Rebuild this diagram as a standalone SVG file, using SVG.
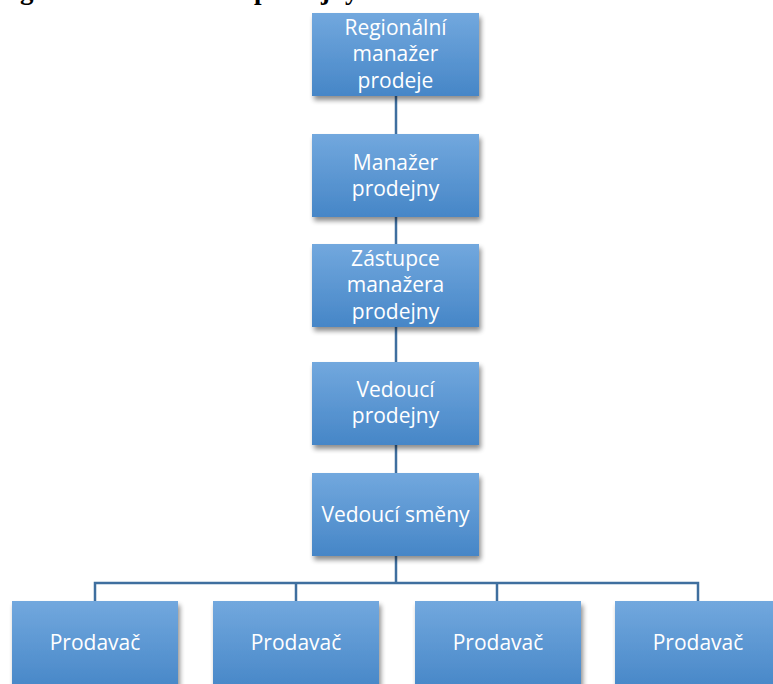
<svg xmlns="http://www.w3.org/2000/svg" width="773" height="684" viewBox="0 0 773 684">
  <defs>
    <linearGradient id="boxFill" x1="0" y1="0" x2="0" y2="1">
      <stop offset="0" stop-color="#72a8de"/>
      <stop offset="1" stop-color="#4686c7"/>
    </linearGradient>
    <filter id="shadow" x="-10%" y="-10%" width="130%" height="140%">
      <feGaussianBlur in="SourceAlpha" stdDeviation="2.5"/>
      <feOffset dx="2" dy="4" result="b"/>
      <feComponentTransfer><feFuncA type="linear" slope="0.45"/></feComponentTransfer>
      <feMerge><feMergeNode/><feMergeNode in="SourceGraphic"/></feMerge>
    </filter>
  </defs>
  <style>
    .box { fill: url(#boxFill); filter: url(#shadow); }
    .lbl { font-family: "Open Sans", "Liberation Sans", sans-serif; font-size: 21px; fill: #ffffff; text-anchor: middle; }
    .conn { stroke: #3f6f9f; stroke-width: 2.5; fill: none; }
    .cap { font-family: "Liberation Serif", serif; font-weight: bold; font-size: 27px; fill: #000000; }
  </style>
  <rect width="773" height="684" fill="#ffffff"/>
  <text class="cap" x="-13" y="-1">Organizační struktura prodejny</text>

  <g id="connectors">
    <line class="conn" x1="396" y1="96" x2="396" y2="134"/>
    <line class="conn" x1="396" y1="217" x2="396" y2="244"/>
    <line class="conn" x1="396" y1="327" x2="396" y2="362"/>
    <line class="conn" x1="396" y1="445" x2="396" y2="473"/>
    <line class="conn" x1="396" y1="556" x2="396" y2="583"/>
    <polyline class="conn" points="95,601 95,583 698,583 698,601"/>
    <line class="conn" x1="296" y1="583" x2="296" y2="601"/>
    <line class="conn" x1="497" y1="583" x2="497" y2="601"/>
  </g>

  <g id="n1">
    <rect class="box" x="312" y="13" width="167" height="83"/>
    <text class="lbl" x="395.5" y="34.5">Regionální</text>
    <text class="lbl" x="395.5" y="61">manažer</text>
    <text class="lbl" x="395.5" y="87.5">prodeje</text>
  </g>
  <g id="n2">
    <rect class="box" x="312" y="134" width="167" height="83"/>
    <text class="lbl" x="395.5" y="170">Manažer</text>
    <text class="lbl" x="395.5" y="196">prodejny</text>
  </g>
  <g id="n3">
    <rect class="box" x="312" y="244" width="167" height="83"/>
    <text class="lbl" x="395.5" y="265.5">Zástupce</text>
    <text class="lbl" x="395.5" y="292">manažera</text>
    <text class="lbl" x="395.5" y="318.5">prodejny</text>
  </g>
  <g id="n4">
    <rect class="box" x="312" y="362" width="167" height="83"/>
    <text class="lbl" x="395.5" y="397">Vedoucí</text>
    <text class="lbl" x="395.5" y="423">prodejny</text>
  </g>
  <g id="n5">
    <rect class="box" x="312" y="473" width="167" height="83"/>
    <text class="lbl" x="395.5" y="521.5">Vedoucí směny</text>
  </g>
  <g id="n6">
    <rect class="box" x="12" y="601" width="166" height="90"/>
    <text class="lbl" x="95" y="650">Prodavač</text>
  </g>
  <g id="n7">
    <rect class="box" x="213" y="601" width="166" height="90"/>
    <text class="lbl" x="296" y="650">Prodavač</text>
  </g>
  <g id="n8">
    <rect class="box" x="415" y="601" width="166" height="90"/>
    <text class="lbl" x="498" y="650">Prodavač</text>
  </g>
  <g id="n9">
    <rect class="box" x="615" y="601" width="166" height="90"/>
    <text class="lbl" x="698" y="650">Prodavač</text>
  </g>
</svg>
